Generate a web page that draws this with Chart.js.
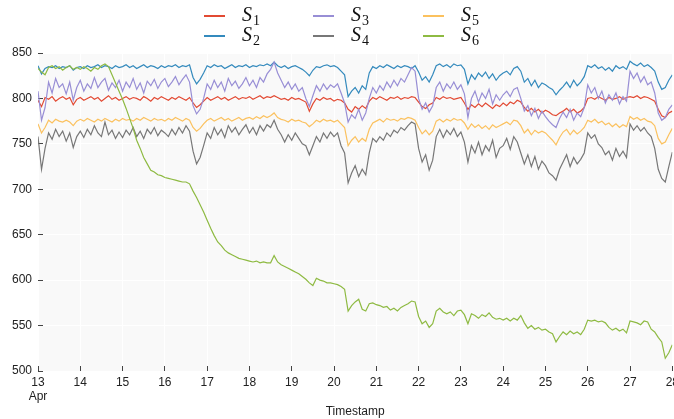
<!DOCTYPE html>
<html>
<head>
<meta charset="utf-8">
<script src="https://cdn.jsdelivr.net/npm/chart.js@4.4.1/dist/chart.umd.min.js"></script>
<style>
  html, body { margin: 0; padding: 0; background: #fff; overflow: hidden; }
  #wrap { position: relative; width: 688px; height: 419px; }
  .lg-line { position: absolute; width: 21px; height: 1.5px; }
  .lg-text { position: absolute; font: italic 20px "Liberation Serif", serif; line-height: 20px; color: #111; white-space: nowrap; }
  .lg-text span { font-style: normal; font-size: 14px; position: relative; top: 4px; margin-left: 1px; }
</style>
</head>
<body>
<div id="wrap"><canvas id="chart"></canvas></div>
<script>
/* ===== DATA (2-hourly readings from 13 Apr 00:00, one row per day) ===== */
const startDay = 13;
const stepHours = 2;
const xTicks = [13, 14, 15, 16, 17, 18, 19, 20, 21, 22, 23, 24, 25, 26, 27, 28];
const yTicks = [500, 550, 600, 650, 700, 750, 800, 850];
const seriesNames = ["1", "2", "3", "4", "5", "6"];
const seriesColors = ["#E24A33", "#348ABD", "#988ED5", "#777777", "#FBC15E", "#8EBA42"];

const s1 = [
  798, 791, 801, 799, 802, 797, 800, 802, 799, 801, 793, 799,
  801, 798, 800, 802, 799, 801, 797, 800, 803, 799, 801, 798,
  800, 802, 799, 801, 800, 798, 802, 800, 797, 801, 799, 802,
  800, 798, 801, 799, 802, 800, 798, 801, 795, 790, 793, 797,
  801, 798, 800, 802, 799, 801, 798, 800, 802, 799, 801, 800,
  802, 799, 801, 803, 800, 802, 801, 803, 801, 799, 800, 798,
  801, 799, 800, 798, 796, 786, 794, 800, 798, 801, 799, 800,
  797, 799, 798, 795, 788, 785, 791, 788, 792, 789, 797, 801,
  799, 802, 800, 798, 801, 800, 802, 799, 801, 800, 802, 801,
  796, 791, 789, 793, 795, 801, 799, 802, 800, 801, 799, 800,
  801, 795, 788, 793, 790, 794, 791, 795, 792, 789, 793, 791,
  795, 792, 796, 794, 798, 796, 790, 786, 789, 785, 788, 784,
  787, 785, 782, 781, 784, 786, 789, 785, 788, 784, 786, 790,
  800, 801, 799, 802, 800, 798, 801, 799, 800, 802, 799, 801,
  802, 801, 803, 800, 802, 801, 799, 797, 788, 781, 779, 784,
  786
];
const s2 = [
  836, 827, 833, 835, 834, 836, 833, 835, 834, 836, 831, 834,
  835, 833, 836, 834, 835, 837, 834, 836, 835, 833, 836, 834,
  835, 837, 834, 836, 833, 835, 837, 834, 836, 835, 833, 836,
  834, 836, 835, 837, 834, 836, 835, 837, 823, 816, 821, 828,
  836, 834, 837, 835, 836, 833, 835, 837, 834, 836, 835, 837,
  834, 836, 835, 837, 836, 838, 836, 840, 836, 834, 836, 833,
  835, 836, 834, 832, 829, 825, 831, 835, 834, 836, 837, 835,
  836, 834, 830, 826, 802, 808, 812, 806, 814, 810, 828, 835,
  833, 836, 834, 837, 835, 833, 836, 834, 836, 835, 833, 836,
  829, 820, 824, 818, 826, 836, 838, 835, 837, 834, 838, 836,
  837, 832, 816, 826, 821, 828, 824, 829, 822, 827, 820, 825,
  828, 830, 826, 833, 835, 830, 818, 822, 814, 820, 812, 817,
  815, 812, 810, 804, 809, 813, 818, 812, 820, 814, 818, 824,
  836, 834, 837, 833, 835, 831, 834, 830, 836, 833, 835, 832,
  841, 838, 836, 839, 835, 837, 834, 830, 818, 810, 812, 820,
  826
];
const s3 = [
  808, 776, 790, 818, 806, 822, 812, 816, 805, 818, 798, 812,
  820, 808, 816, 811, 823, 812, 818, 822, 809, 817, 812, 820,
  808, 818, 812, 822, 810, 817, 806, 819, 814, 821, 811, 818,
  822, 813, 818, 824, 815, 821, 826, 818, 792, 783, 788, 800,
  816, 810, 820, 812, 818, 808, 822, 814, 819, 811, 816, 823,
  814, 820, 812, 823, 818, 827, 832, 840, 828, 820, 812, 818,
  810, 816, 808, 812, 800, 791, 803, 814, 808, 816, 810, 815,
  812, 816, 806, 795, 774, 782, 778, 788, 776, 784, 800, 812,
  806, 814, 809, 818, 812, 820, 814, 822, 818, 826, 834, 830,
  800, 788, 795, 785, 792, 812, 818, 808, 816, 811, 818, 810,
  815, 805, 779, 800, 808, 796, 806, 800, 810, 794, 804, 798,
  804, 808, 802, 810, 812, 800, 786, 792, 781, 789, 778, 786,
  780, 775, 771, 768, 778, 785, 779, 788, 776, 784, 780, 790,
  815, 806, 812, 800, 808, 795, 804, 798, 806, 794, 802, 797,
  830, 822, 828, 818, 824, 815, 818, 806, 784, 776, 779, 788,
  793
];
const s4 = [
  758, 722, 745, 762, 755, 766, 758, 764, 753, 762, 746, 758,
  764, 757, 766, 760, 770, 762, 758, 774, 760, 765, 756, 763,
  757, 765, 760, 768, 758, 764, 756, 766, 761, 768, 759, 765,
  762, 758, 766, 760, 768, 762, 770, 764, 742, 728, 735, 748,
  762, 756, 768, 760, 766, 757, 770, 763, 768, 760, 766, 771,
  762, 768, 760, 770, 764, 771, 768, 776, 766, 760, 752, 760,
  754, 762, 756, 750, 748, 738, 748, 758, 752, 762, 756, 763,
  758, 762, 748, 740, 707, 718, 726, 714, 722, 716, 740, 756,
  752, 758, 754, 762, 758, 765, 762, 768, 765, 770, 774, 772,
  745, 730, 738, 721, 732, 758, 766, 757, 765, 760, 767, 758,
  763, 752, 730, 748, 740, 752, 738, 748, 742, 754, 735, 745,
  748, 756, 744, 758, 752, 740, 728, 738, 725, 736, 722, 731,
  726, 718, 715, 710, 722, 730, 738, 725, 735, 728, 733, 740,
  762, 756, 760, 750, 746, 738, 742, 732, 745, 736, 742, 735,
  772, 765, 770, 764, 768, 762, 758, 745, 722, 712, 708, 725,
  741
];
const s5 = [
  772, 762, 768, 776, 773, 777, 775, 774, 776, 774, 770, 775,
  777, 775, 778, 776, 774, 777, 775, 778, 776, 774, 777, 775,
  778, 776, 777, 775, 778, 776, 779, 777, 775, 778, 776, 777,
  775, 778, 776, 779, 777, 775, 778, 776, 768, 764, 767, 772,
  776, 778, 775, 777, 779, 776, 778, 775, 777, 779, 776, 778,
  779, 777, 780, 778, 781, 779, 781, 784, 779, 777, 776, 774,
  777, 775, 776, 774, 773, 769, 772, 776, 774, 777, 775, 776,
  774, 776, 772, 768, 748, 754, 758, 752, 756, 753, 766, 773,
  775, 777, 774, 778, 776, 777, 775, 778, 777, 779, 778, 776,
  768, 761, 765, 760, 764, 775, 777, 774, 777, 775, 778, 776,
  777, 773, 766, 772, 768, 771, 767, 770, 766, 771, 768, 770,
  772, 774, 771, 776, 775, 770, 762, 766, 760, 765, 762, 764,
  762, 758, 754, 749, 757, 763, 766, 760, 765, 761, 764, 768,
  776, 774, 777, 773, 775, 771, 773, 769, 772, 768, 771, 769,
  780, 777, 779, 776, 778, 775, 774, 770, 756, 750, 752, 760,
  767
];
const s6 = [
  833, 829, 826, 834, 836, 833, 835, 831, 834, 836, 832, 834,
  832, 835, 833, 830, 834, 832, 836, 838, 835, 826, 817, 808,
  799, 789, 778, 767, 754, 745, 735, 728, 721, 719, 716, 715,
  713, 712, 711, 710, 709, 708, 708, 706, 698, 691, 683, 675,
  666, 657, 649, 642, 638, 633, 630, 628, 626, 624, 623, 622,
  621, 620, 621, 619, 620, 619, 619, 627, 620, 617, 615, 613,
  611, 609, 607, 604, 601, 597, 594, 602, 600, 599, 597, 597,
  596, 595, 593, 590, 566, 572, 576, 579, 568, 566, 574, 575,
  573, 572, 570, 571, 567, 569, 566, 570, 572, 574, 577, 576,
  560, 552, 555, 548, 552, 566, 569, 565, 563, 565, 561, 566,
  567, 562, 552, 563, 561, 558, 562, 560, 564, 559, 557, 558,
  556, 558, 555, 558, 556, 561, 553, 547, 550, 546, 548, 545,
  546, 543, 541, 532, 538, 543, 540, 544, 541, 543, 540, 546,
  556, 555, 556, 554, 555, 553, 548, 545, 547, 544, 546, 542,
  555, 554, 553, 551, 555, 554, 546, 543, 537, 532, 514, 520,
  529
];
const allSeries = [s1, s2, s3, s4, s5, s6];
/* ================== */

// day-of-month position for each reading
const days = s1.map((_, i) => startDay + (i * stepHours) / 24);

const plotBg = {
  id: "plotBg",
  beforeDraw(chart) {
    const { ctx, chartArea: a } = chart;
    ctx.save();
    ctx.fillStyle = "#f9f9f9";
    ctx.fillRect(a.left, a.top, a.right - a.left, a.bottom - a.top);
    ctx.restore();
  }
};

const tickFont = { family: "'Liberation Sans', Arial, sans-serif", size: 12 };

const chart = new Chart(document.getElementById("chart"), {
  type: "line",
  data: {
    datasets: allSeries.map((vals, i) => ({
      label: "S" + seriesNames[i],
      data: vals.map((v, j) => ({ x: days[j], y: v })),
      borderColor: seriesColors[i],
      backgroundColor: seriesColors[i],
      borderWidth: 1.2,
      pointRadius: 0,
      tension: 0,
      order: allSeries.length - i
    }))
  },
  options: {
    responsive: true,
    maintainAspectRatio: false,
    animation: false,
    layout: { padding: { top: 53, left: 0, right: 0, bottom: 0 } },
    plugins: { legend: { display: false }, tooltip: { enabled: false } },
    scales: {
      x: {
        type: "linear",
        min: 13,
        max: 28,
        afterBuildTicks: (s) => { s.ticks = xTicks.map((v) => ({ value: v })); },
        afterFit: (s) => { s.height = 48; },
        border: { display: false },
        grid: { color: "#ffffff", tickColor: "#444", tickLength: -5, lineWidth: 1 },
        ticks: {
          color: "#222",
          font: tickFont,
          padding: 9,
          maxRotation: 0,
          autoSkip: false,
          callback: (v) => (v === 13 ? ["13", "Apr"] : String(v))
        },
        title: {
          display: true,
          text: "Timestamp",
          color: "#222",
          font: tickFont,
          padding: { top: 0, bottom: 0 }
        }
      },
      y: {
        min: 500,
        max: 850,
        afterBuildTicks: (s) => { s.ticks = yTicks.map((v) => ({ value: v })); },
        afterFit: (s) => { s.width = 38; },
        border: { display: false },
        grid: { color: "#ffffff", tickColor: "#444", tickLength: -5, lineWidth: 1 },
        ticks: { color: "#222", font: tickFont, padding: 11 }
      }
    }
  },
  plugins: [plotBg]
});

// legend: 3 columns x 2 rows, filled column by column
const wrap = document.getElementById("wrap");
const legendCols = [204, 313, 423];
const legendRows = [16, 36];
chart.data.datasets.forEach((ds, i) => {
  const col = Math.floor(i / 2);
  const row = i % 2;
  const line = document.createElement("div");
  line.className = "lg-line";
  line.style.left = legendCols[col] + "px";
  line.style.top = legendRows[row] - 1 + "px";
  line.style.background = ds.borderColor;
  wrap.appendChild(line);
  const txt = document.createElement("div");
  txt.className = "lg-text";
  txt.style.left = legendCols[col] + 38 + "px";
  txt.style.top = legendRows[row] - 12 + "px";
  txt.innerHTML = "S<span>" + seriesNames[i] + "</span>";
  wrap.appendChild(txt);
});
</script>
</body>
</html>
